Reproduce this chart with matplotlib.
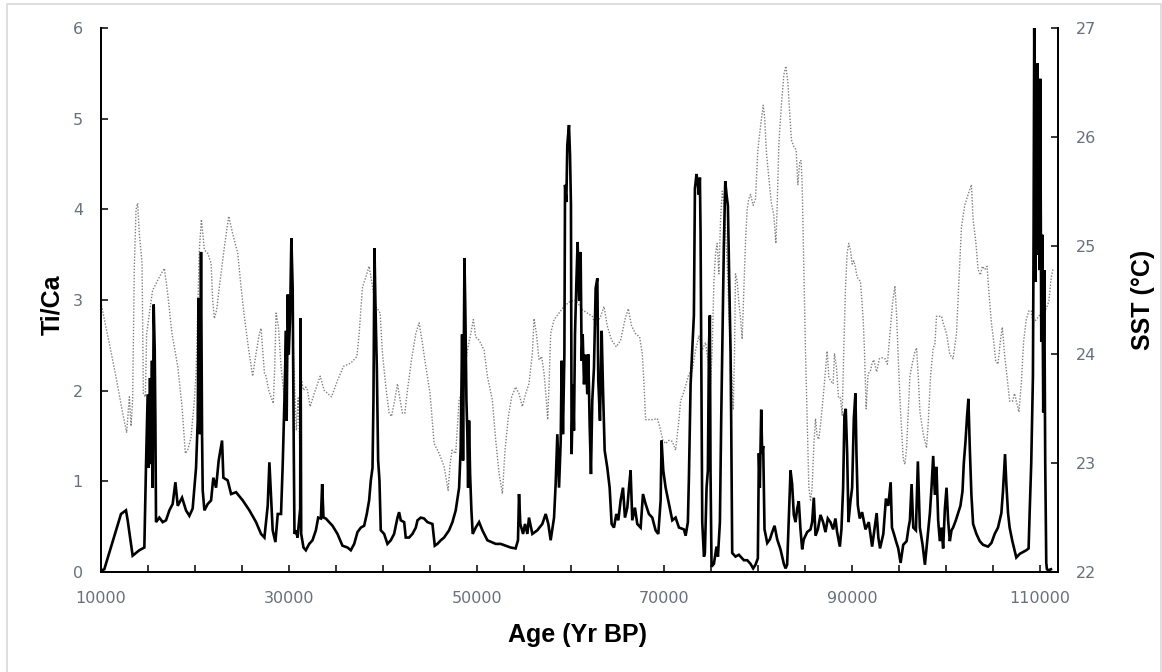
import matplotlib
matplotlib.use("Agg")
import matplotlib.pyplot as plt
from matplotlib.patches import Rectangle
from matplotlib.ticker import MultipleLocator, FixedLocator

# Ti/Ca record: (age in yr BP, Ti/Ca ratio)
ti_ca_points = [
    (10100, 0.02), (10350, 0.03), (11600, 0.46), (12130, 0.64), (12660, 0.68), (12840, 0.57), (13370, 0.18), (14080, 0.24), (14615, 0.27), (14790, 1.17),
    (14970, 1.96), (15080, 1.15), (15220, 2.14), (15330, 1.19), (15430, 2.33), (15500, 0.93), (15610, 2.95), (15720, 2.44), (15790, 1.67), (15860, 0.55),
    (16210, 0.60), (16570, 0.55), (16920, 0.57), (17280, 0.68), (17630, 0.75), (17920, 0.99), (18170, 0.73), (18630, 0.82), (19050, 0.68), (19410, 0.62),
    (19760, 0.70), (19940, 0.92), (20120, 1.15), (20300, 1.67), (20400, 3.02), (20540, 1.52), (20650, 3.53), (20760, 1.52), (20830, 0.90), (21010, 0.68),
    (21360, 0.75), (21720, 0.79), (21960, 1.04), (22250, 0.93), (22530, 1.23), (22890, 1.45), (23030, 1.04), (23490, 1.01), (23850, 0.86), (24380, 0.88),
    (25090, 0.79), (25800, 0.68), (26510, 0.55), (27040, 0.42), (27400, 0.38), (27750, 0.73), (27930, 1.21), (28110, 0.82), (28280, 0.46), (28570, 0.33),
    (28820, 0.64), (29170, 0.64), (29350, 1.19), (29530, 1.89), (29700, 2.66), (29770, 1.67), (29880, 3.06), (29990, 2.40), (30130, 2.80), (30270, 3.68),
    (30410, 3.13), (30520, 1.41), (30600, 0.42), (30750, 0.46), (30930, 0.38), (31210, 0.70), (31245, 2.80), (31316, 0.42), (31560, 0.27), (31810, 0.24),
    (32170, 0.31), (32520, 0.35), (32880, 0.46), (33125, 0.60), (33410, 0.59), (33550, 0.97), (33690, 0.60), (33940, 0.59), (34300, 0.55), (34650, 0.51),
    (35180, 0.42), (35710, 0.29), (36250, 0.27), (36600, 0.24), (36960, 0.31), (37310, 0.44), (37670, 0.49), (38020, 0.51), (38300, 0.64), (38550, 0.79),
    (38730, 1.01), (38910, 1.15), (39010, 1.89), (39120, 3.57), (39230, 2.91), (39370, 2.25), (39510, 1.23), (39650, 1.01), (39790, 0.46), (40150, 0.42),
    (40500, 0.31), (40860, 0.35), (41210, 0.42), (41570, 0.60), (41740, 0.66), (41920, 0.57), (42280, 0.55), (42450, 0.38), (42810, 0.38), (43160, 0.42),
    (43520, 0.49), (43700, 0.57), (44050, 0.60), (44400, 0.59), (44760, 0.55), (45290, 0.53), (45540, 0.29), (45820, 0.31), (46180, 0.35), (46530, 0.38),
    (47060, 0.46), (47420, 0.55), (47770, 0.68), (48130, 0.93), (48300, 1.37), (48450, 2.62), (48550, 1.23), (48620, 2.25), (48700, 3.46), (48800, 2.84),
    (48910, 1.89), (49010, 1.52), (49090, 0.93), (49190, 1.67), (49300, 1.08), (49440, 0.68), (49580, 0.42), (49900, 0.49), (50260, 0.55), (50610, 0.46),
    (51140, 0.35), (52030, 0.31), (52560, 0.31), (53090, 0.29), (53620, 0.27), (54150, 0.26), (54400, 0.35), (54510, 0.86), (54650, 0.53), (54940, 0.42),
    (55150, 0.53), (55400, 0.42), (55570, 0.60), (55930, 0.42), (56460, 0.46), (56990, 0.53), (57350, 0.64), (57630, 0.53), (57880, 0.35), (58240, 0.60),
    (58410, 0.97), (58590, 1.52), (58770, 0.93), (58950, 1.45), (59050, 2.33), (59190, 1.52), (59340, 2.40), (59410, 4.27), (59550, 4.08), (59650, 4.71),
    (59830, 4.93), (59940, 4.60), (60040, 4.05), (60110, 1.30), (60260, 2.07), (60360, 1.56), (60470, 2.62), (60610, 3.17), (60750, 3.64), (60900, 2.99),
    (61070, 3.53), (61180, 2.33), (61290, 2.62), (61430, 2.07), (61600, 2.40), (61780, 1.96), (61890, 2.40), (62030, 1.63), (62170, 1.08), (62310, 1.89),
    (62490, 2.25), (62670, 3.13), (62850, 3.24), (62950, 2.11), (63130, 1.67), (63310, 2.66), (63450, 2.03), (63630, 1.34), (63910, 1.15), (64160, 0.93),
    (64370, 0.53), (64620, 0.49), (64870, 0.64), (65080, 0.57), (65330, 0.79), (65580, 0.93), (65790, 0.60), (66040, 0.71), (66220, 0.93), (66390, 1.12),
    (66570, 0.57), (66850, 0.71), (67100, 0.53), (67460, 0.49), (67710, 0.86), (67990, 0.75), (68340, 0.64), (68700, 0.60), (69050, 0.46), (69340, 0.42),
    (69590, 0.79), (69690, 1.45), (69870, 1.12), (70120, 0.93), (70400, 0.79), (70830, 0.57), (71180, 0.60), (71540, 0.49), (72070, 0.47), (72250, 0.40),
    (72490, 0.55), (72600, 1.04), (72780, 2.07), (72950, 2.45), (73130, 2.83), (73240, 4.23), (73410, 4.39), (73560, 4.27), (73660, 4.16), (73770, 4.35),
    (73840, 3.74), (73910, 2.45), (74020, 0.55), (74200, 0.17), (74300, 0.21), (74480, 0.93), (74620, 1.12), (74730, 2.45), (74830, 2.83), (74900, 1.12),
    (75010, 0.06), (75260, 0.09), (75540, 0.28), (75690, 0.17), (75900, 0.55), (76040, 1.69), (76180, 2.64), (76320, 3.59), (76470, 4.31), (76610, 4.16),
    (76750, 4.04), (76890, 3.21), (77030, 2.45), (77100, 1.69), (77210, 0.21), (77560, 0.17), (77920, 0.19), (78450, 0.13), (78810, 0.13), (79160, 0.09),
    (79440, 0.04), (79690, 0.08), (79940, 0.15), (80050, 1.31), (80150, 0.93), (80300, 1.79), (80400, 1.31), (80510, 1.39), (80650, 0.47), (80940, 0.32),
    (81220, 0.36), (81470, 0.44), (81720, 0.51), (82000, 0.36), (82350, 0.25), (82710, 0.09), (82890, 0.04), (83060, 0.08), (83240, 0.59), (83420, 1.12),
    (83590, 0.97), (83770, 0.63), (83950, 0.55), (84130, 0.70), (84300, 0.78), (84480, 0.47), (84660, 0.25), (84830, 0.36), (85190, 0.44), (85550, 0.47),
    (85720, 0.55), (85900, 0.82), (86080, 0.40), (86330, 0.47), (86610, 0.63), (86890, 0.55), (87140, 0.44), (87390, 0.59), (87670, 0.55), (87960, 0.47),
    (88200, 0.59), (88380, 0.44), (88670, 0.28), (88840, 0.47), (89020, 0.93), (89160, 1.73), (89300, 1.80), (89450, 1.31), (89590, 0.55), (89800, 0.78),
    (89980, 0.93), (90160, 1.69), (90330, 1.97), (90440, 1.31), (90580, 0.74), (90790, 0.59), (91040, 0.66), (91400, 0.47), (91750, 0.55), (92110, 0.28),
    (92460, 0.55), (92590, 0.65), (92770, 0.38), (92950, 0.26), (93300, 0.42), (93580, 0.81), (93830, 0.73), (94080, 0.99), (94220, 0.49), (94430, 0.42),
    (94650, 0.34), (94890, 0.26), (95140, 0.10), (95420, 0.30), (95780, 0.34), (95990, 0.49), (96130, 0.57), (96310, 0.97), (96490, 0.49), (96770, 0.46),
    (96980, 1.22), (97190, 0.49), (97480, 0.30), (97730, 0.08), (97900, 0.26), (98080, 0.46), (98260, 0.65), (98430, 0.93), (98610, 1.28), (98790, 0.85),
    (98960, 1.16), (99140, 0.57), (99320, 0.34), (99500, 0.49), (99670, 0.26), (99850, 0.69), (100030, 0.93), (100200, 0.57), (100380, 0.34), (100560, 0.46),
    (100730, 0.49), (101020, 0.57), (101270, 0.65), (101510, 0.73), (101730, 0.89), (101870, 1.20), (102050, 1.44), (102220, 1.72), (102360, 1.91), (102510, 1.36),
    (102680, 0.85), (102860, 0.53), (103210, 0.42), (103570, 0.34), (103920, 0.30), (104450, 0.28), (104810, 0.32), (105160, 0.42), (105510, 0.49), (105870, 0.65),
    (106040, 0.89), (106260, 1.30), (106400, 0.97), (106580, 0.65), (106750, 0.49), (107040, 0.34), (107460, 0.16), (107820, 0.20), (108170, 0.22), (108520, 0.24),
    (108770, 0.26), (108880, 0.65), (109050, 1.20), (109230, 2.15), (109300, 3.72), (109370, 6.00), (109440, 4.90), (109510, 3.20), (109580, 4.60), (109650, 3.72),
    (109730, 5.61), (109800, 3.50), (109870, 4.51), (109940, 3.33), (110010, 5.44), (110120, 2.54), (110220, 3.72), (110330, 1.76), (110430, 3.33), (110540, 1.20),
    (110650, 0.10), (110720, 0.03), (110900, 0.02), (111150, 0.03),
]

# Sea-surface temperature record: (age in yr BP, SST in degC)
sst_points = [
    (10050, 24.45), (10890, 24.10), (11600, 23.79), (12310, 23.46), (12730, 23.28), (13020, 23.61), (13200, 23.34), (13370, 23.59), (13550, 24.81), (13730, 25.33),
    (13900, 25.39), (14080, 25.11), (14370, 24.84), (14510, 23.64), (14720, 23.61), (14860, 24.19), (15150, 24.38), (15500, 24.59), (15860, 24.65), (16390, 24.74),
    (16750, 24.79), (17100, 24.56), (17560, 24.19), (18170, 23.89), (18630, 23.52), (18980, 23.09), (19230, 23.12), (19590, 23.24), (19940, 23.58), (20120, 23.83),
    (20470, 24.96), (20690, 25.24), (21010, 24.96), (21360, 24.93), (21720, 24.84), (21890, 24.50), (22070, 24.33), (22320, 24.41), (22600, 24.62), (23140, 24.99),
    (23600, 25.27), (24020, 25.11), (24560, 24.93), (24910, 24.62), (25260, 24.35), (25730, 24.04), (26150, 23.80), (26510, 24.01), (26860, 24.19), (27040, 24.24),
    (27400, 23.83), (27570, 23.80), (27860, 23.67), (28110, 23.61), (28350, 23.55), (28500, 23.89), (28640, 24.38), (28890, 24.26), (29170, 23.89), (29530, 23.58),
    (29700, 23.40), (30000, 24.30), (30250, 24.70), (30500, 24.00), (30800, 23.30), (31000, 23.60), (31210, 23.00), (31350, 23.76), (31560, 23.67), (31810, 23.70),
    (31990, 23.67), (32270, 23.52), (32700, 23.64), (33340, 23.80), (33760, 23.67), (34540, 23.61), (35180, 23.76), (35820, 23.89), (36600, 23.92), (37240, 23.98),
    (37490, 24.19), (37840, 24.62), (38200, 24.71), (38550, 24.81), (38910, 24.62), (39260, 24.44), (39510, 24.41), (39720, 24.38), (39970, 24.01), (40330, 23.70),
    (40680, 23.46), (40930, 23.43), (41280, 23.58), (41570, 23.73), (41850, 23.58), (42100, 23.46), (42350, 23.46), (42630, 23.67), (43060, 23.95), (43520, 24.19),
    (43870, 24.29), (44230, 24.10), (44580, 23.89), (45040, 23.64), (45470, 23.18), (46000, 23.09), (46530, 22.97), (46960, 22.75), (47170, 22.99), (47380, 23.12),
    (47770, 23.09), (48130, 23.58), (48480, 23.67), (48730, 23.86), (49020, 24.04), (49370, 24.19), (49650, 24.32), (49900, 24.16), (50260, 24.13), (50790, 24.04),
    (51140, 23.80), (51670, 23.58), (52030, 23.21), (52380, 22.91), (52740, 22.72), (53020, 23.12), (53380, 23.43), (53730, 23.61), (54150, 23.70), (54510, 23.64),
    (54860, 23.52), (55220, 23.64), (55570, 23.73), (55930, 24.01), (56110, 24.33), (56360, 24.19), (56640, 23.95), (56920, 23.98), (57170, 23.83), (57420, 23.58),
    (57560, 23.40), (57700, 23.70), (57880, 24.19), (58240, 24.32), (58770, 24.38), (59300, 24.44), (59830, 24.48), (60540, 24.50), (61250, 24.41), (61780, 24.38),
    (62310, 24.35), (62670, 24.26), (63200, 24.35), (63560, 24.44), (63910, 24.26), (64370, 24.13), (64870, 24.07), (65330, 24.13), (65790, 24.32), (66140, 24.42),
    (66500, 24.26), (66920, 24.19), (67350, 24.16), (67630, 24.01), (67810, 23.74), (67990, 23.40), (68700, 23.40), (69230, 23.41), (69480, 23.34), (69830, 23.21),
    (70120, 23.18), (70470, 23.21), (70830, 23.20), (71180, 23.12), (71540, 23.40), (71710, 23.57), (72070, 23.66), (72600, 23.82), (72950, 23.85), (73310, 24.04),
    (73660, 24.17), (74020, 24.04), (74370, 24.11), (74730, 23.88), (74900, 23.73), (75080, 24.04), (75260, 24.67), (75440, 24.93), (75610, 25.02), (75790, 24.74),
    (75970, 25.24), (76150, 25.50), (76320, 25.40), (76500, 25.15), (76680, 24.83), (76860, 24.36), (77100, 23.95), (77320, 23.49), (77460, 24.04), (77560, 24.74),
    (77740, 24.67), (77920, 24.48), (78100, 24.33), (78270, 24.14), (78450, 24.61), (78630, 25.05), (78810, 25.34), (78980, 25.43), (79160, 25.47), (79440, 25.37),
    (79690, 25.43), (79940, 25.88), (80230, 26.10), (80510, 26.29), (80650, 26.19), (80860, 25.85), (81110, 25.62), (81360, 25.40), (81640, 25.28), (81860, 25.02),
    (82000, 25.37), (82180, 25.94), (82420, 26.26), (82710, 26.57), (82920, 26.65), (83130, 26.51), (83350, 26.19), (83520, 25.97), (83770, 25.91), (84020, 25.88),
    (84200, 25.56), (84410, 25.78), (84550, 25.78), (84660, 25.56), (84830, 24.83), (85010, 24.04), (85190, 23.41), (85370, 22.78), (85550, 22.65), (85720, 22.78),
    (85900, 23.16), (86080, 23.41), (86250, 23.25), (86430, 23.22), (86610, 23.35), (86890, 23.60), (87140, 23.85), (87320, 24.03), (87500, 23.79), (87670, 23.76),
    (87960, 23.73), (88100, 24.01), (88310, 23.88), (88530, 23.60), (88740, 23.60), (88920, 23.44), (89090, 24.04), (89270, 24.61), (89450, 24.93), (89620, 25.02),
    (89800, 24.96), (89980, 24.83), (90160, 24.86), (90330, 24.80), (90510, 24.71), (90870, 24.67), (91150, 24.33), (91290, 24.04), (91470, 23.50), (91680, 23.82),
    (91930, 23.85), (92110, 23.92), (92280, 23.95), (92590, 23.84), (92880, 23.96), (93120, 23.97), (93480, 23.96), (93730, 23.91), (94010, 24.19), (94290, 24.48),
    (94540, 24.63), (94720, 24.35), (94890, 23.96), (95140, 23.47), (95420, 23.04), (95600, 22.99), (95780, 23.14), (95960, 23.47), (96130, 23.80), (96420, 23.93),
    (96660, 24.02), (96840, 24.06), (97020, 23.80), (97200, 23.47), (97550, 23.27), (97900, 23.14), (98080, 23.37), (98330, 23.80), (98610, 24.06), (98790, 24.09),
    (98960, 24.35), (99250, 24.35), (99500, 24.35), (99670, 24.29), (100030, 24.19), (100380, 24.00), (100730, 23.96), (101090, 24.19), (101370, 24.71), (101620, 25.17),
    (101970, 25.37), (102330, 25.47), (102680, 25.56), (102860, 25.24), (103140, 25.04), (103390, 24.78), (103640, 24.73), (103850, 24.81), (104100, 24.78), (104350, 24.81),
    (104560, 24.55), (104810, 24.29), (105050, 24.12), (105270, 23.94), (105510, 23.91), (105760, 24.12), (105970, 24.25), (106220, 23.99), (106470, 23.80), (106750, 23.57),
    (107040, 23.57), (107280, 23.64), (107460, 23.57), (107740, 23.47), (107990, 23.73), (108240, 24.12), (108520, 24.32), (108800, 24.40), (109050, 24.40), (109230, 24.29),
    (109580, 24.32), (109940, 24.36), (110290, 24.39), (110650, 24.42), (110930, 24.49), (111180, 24.71), (111360, 24.78),
]

age_labels = [10000, 30000, 50000, 70000, 90000, 110000]
ti_ticks = [0, 1, 2, 3, 4, 5, 6]
sst_ticks = [22, 23, 24, 25, 26, 27]

ti_age, ti_val = zip(*ti_ca_points)
sst_age, sst_val = zip(*sst_points)

W, H = 1162, 672
fig = plt.figure(figsize=(W / 100, H / 100), dpi=100)
fig.patch.set_facecolor("white")

# chart-area border
fig.patches.append(Rectangle((7 / W, -0.01), (1160.5 - 7) / W, 1.01 - 4 / H,
                             transform=fig.transFigure, fill=False,
                             edgecolor="#d9d9d9", linewidth=1.2))

left, right, top, bottom = 101, 1058, 28, 572
ax = fig.add_axes([left / W, (H - bottom) / H, (right - left) / W, (bottom - top) / H])
ax2 = ax.twinx()

tick_color = "#66707e"
font = "Liberation Sans"

ax2.plot(sst_age, sst_val, color="#808080", lw=1.0, linestyle=(0, (1, 1.2)))
ax.plot(ti_age, ti_val, color="black", lw=1.9, solid_joinstyle="miter")

ax.set_zorder(ax2.get_zorder() + 1)
ax.patch.set_visible(False)

ax.set_xlim(10000, 111900)
ax.set_ylim(0, 6)
ax2.set_ylim(22, 27)

ax.xaxis.set_major_locator(FixedLocator(age_labels))
ax.xaxis.set_minor_locator(MultipleLocator(5000))
ax.set_yticks(ti_ticks)
ax2.set_yticks(sst_ticks)

for a in (ax, ax2):
    a.spines["top"].set_visible(False)
    for s in ("left", "right", "bottom"):
        a.spines[s].set_linewidth(1.3)
        a.spines[s].set_color("black")
    a.tick_params(which="both", direction="in", length=5, width=1.1,
                  colors="black", labelcolor=tick_color, labelsize=11.5)

ax.tick_params(axis="y", pad=13)
ax2.tick_params(axis="y", pad=13)
ax.tick_params(axis="x", which="both", pad=14)

for lab in ax.get_xticklabels() + ax.get_yticklabels() + ax2.get_yticklabels():
    lab.set_fontfamily("DejaVu Sans")

fig.text(52 / W, 1 - 305 / H, "Ti/Ca", rotation=90, ha="center", va="center",
         fontsize=18, fontweight="bold", family=font)
fig.text(578 / W, 1 - 635 / H, "Age (Yr BP)", ha="center", va="center",
         fontsize=18, fontweight="bold", family=font)
fig.text(1143 / W, 1 - 300 / H, "SST (\u00b0C)", rotation=90, ha="center", va="center",
         fontsize=18, fontweight="bold", family=font)

fig.savefig("out.png", dpi=100)
